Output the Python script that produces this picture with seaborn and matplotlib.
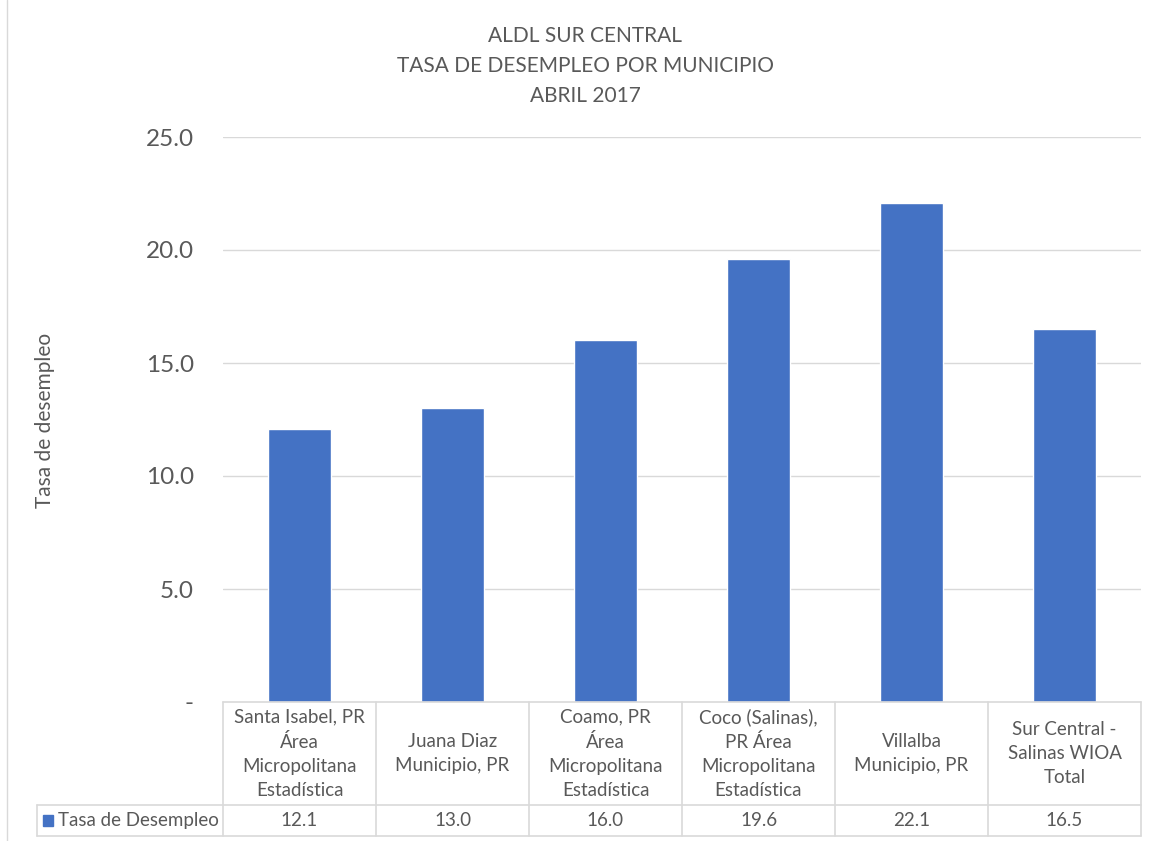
import matplotlib
matplotlib.use('Agg')
import matplotlib.pyplot as plt
import matplotlib.transforms as mtransforms
import seaborn as sns
import pandas as pd

# Data
municipios = [
    'Santa Isabel, PR\nÁrea\nMicropolitana\nEstadística',
    'Juana Diaz\nMunicipio, PR',
    'Coamo, PR\nÁrea\nMicropolitana\nEstadística',
    'Coco (Salinas),\nPR Área\nMicropolitana\nEstadística',
    'Villalba\nMunicipio, PR',
    'Sur Central -\nSalinas WIOA\nTotal',
]
tasa = [12.1, 13.0, 16.0, 19.6, 22.1, 16.5]
serie = 'Tasa de Desempleo'
titulo = 'ALDL SUR CENTRAL\nTASA DE DESEMPLEO POR MUNICIPIO\nABRIL 2017'
yticks = [0, 5, 10, 15, 20, 25]
ytick_labels = ['-', '5.0', '10.0', '15.0', '20.0', '25.0']

df = pd.DataFrame({'Municipio': municipios, 'Tasa': tasa})

sns.set_style('white')
plt.rcParams['font.family'] = ['Lato', 'DejaVu Sans']

W, H = 1154, 841
fig = plt.figure(figsize=(W / 100, H / 100), dpi=100)
ax = fig.add_axes([223 / W, 1 - 702 / H, (1141 - 223) / W, (702 - 137) / H])

blue = '#4472C4'
grid = '#D9D9D9'
txt = '#595959'

sns.barplot(data=df, x='Municipio', y='Tasa', color=blue, width=0.41,
            saturation=1, ax=ax, zorder=3)

ax.set_ylim(0, 25)
ax.set_xlim(-0.5, len(municipios) - 0.5)
ax.set_yticks(yticks)
ax.set_yticklabels(ytick_labels, fontsize=17.5, color=txt)
ax.tick_params(axis='y', length=0, pad=21)
ax.set_xticks([])
ax.set_xlabel('')
ax.set_ylabel('')
for y in yticks[1:]:
    ax.axhline(y, color=grid, lw=1, zorder=1)
for s in ax.spines.values():
    s.set_visible(False)

fig.text(45 / W, 1 - 420 / H, 'Tasa de desempleo', rotation=90, ha='center',
         va='center', fontsize=15, color=txt)
fig.text(585 / W, 1 - 66 / H, titulo, ha='center', va='center', fontsize=15,
         color=txt, linespacing=1.6)

# Data table below the axes
tr = mtransforms.blended_transform_factory(ax.transData, fig.transFigure)
y_top = 1 - 702 / H
y_mid = 1 - 805 / H
y_bot = 1 - 836 / H
n = len(municipios)
lw = 1.2
for i in range(n + 1):
    fig.add_artist(plt.Line2D([i - 0.5, i - 0.5], [y_top, y_bot], transform=tr,
                              color=grid, lw=lw))
fig.add_artist(plt.Line2D([-0.5, n - 0.5], [y_top, y_top], transform=tr, color=grid, lw=lw))
fig.add_artist(plt.Line2D([37 / W, 1141 / W], [y_mid, y_mid], transform=fig.transFigure,
                          color=grid, lw=lw))
fig.add_artist(plt.Line2D([37 / W, 1141 / W], [y_bot, y_bot], transform=fig.transFigure,
                          color=grid, lw=lw))
fig.add_artist(plt.Line2D([37 / W, 37 / W], [y_mid, y_bot], transform=fig.transFigure,
                          color=grid, lw=lw))

for i, (m, v) in enumerate(zip(municipios, tasa)):
    fig.text(i, (y_top + y_mid) / 2, m, transform=tr, ha='center', va='center',
             fontsize=13.5, color=txt, linespacing=1.5)
    fig.text(i, (y_mid + y_bot) / 2, f'{v:.1f}', transform=tr, ha='center',
             va='center', fontsize=13.5, color=txt)

fig.add_artist(plt.Rectangle((43 / W, 1 - 826 / H), 10 / W, 11 / H,
                             transform=fig.transFigure, color=blue))
fig.text(58 / W, (y_mid + y_bot) / 2, serie, ha='left', va='center',
         fontsize=13.5, color=txt)

# left border of chart area
fig.add_artist(plt.Line2D([7 / W, 7 / W], [0, 1], transform=fig.transFigure,
                          color=grid, lw=1))

fig.savefig('out.png', dpi=100)
